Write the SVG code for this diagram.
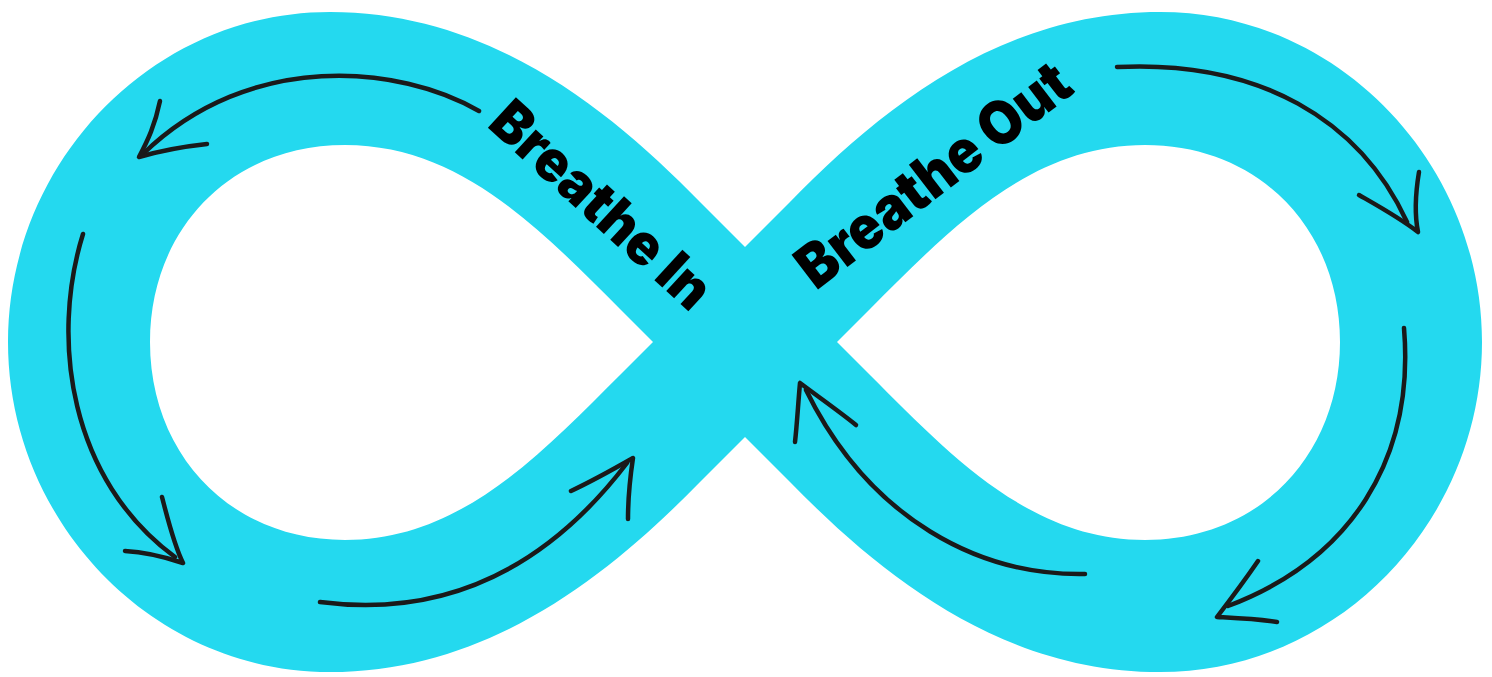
<svg xmlns="http://www.w3.org/2000/svg" width="1492" height="677" viewBox="0 0 1492 677">
  <style>
    .band { fill: #24D9EF; fill-rule: evenodd; }
    .arrow { fill: none; stroke: #1a1a1a; stroke-width: 4.5; stroke-linecap: round; stroke-linejoin: round; }
    .label { font-family: Inter, "Liberation Sans", sans-serif; font-weight: 900; fill: #000; }
  </style>
  <rect width="1492" height="677" fill="#ffffff"/>
  <g id="infinity">
    <path class="band" d="M745,247 L700,202 C610,110 490,12 330,12 C150,12 8,165 8,342 C8,519 150,672 330,672 C490,672 610,574 700,482 L745,437 L790,482 C880,574 1000,672 1160,672 C1340,672 1482,519 1482,342 C1482,165 1340,12 1160,12 C1000,12 880,110 790,202 Z
      M653,342 L620,309 C540,229 460,145 345,145 C230,145 150,230 150,342 C150,454 230,540 345,540 C460,540 540,455 620,375 Z
      M837,342 L870,309 C950,229 1030,145 1145,145 C1260,145 1340,230 1340,342 C1340,454 1260,540 1145,540 C1030,540 950,455 870,375 Z"/>
  </g>
  <g id="connectors">
    <g id="arrow-top-left">
      <path class="arrow" d="M479,111 C400,65 250,50 143,154"/>
      <path class="arrow" d="M160,101 C155,125 148,140 139,157 Q170,148 207,144"/>
    </g>
    <g id="arrow-left">
      <path class="arrow" d="M83,234 C50,340 70,480 175,557"/>
      <path class="arrow" d="M162,497 C168,520 174,545 183,563 C165,557 145,552 125,551"/>
    </g>
    <g id="arrow-bottom-left">
      <path class="arrow" d="M320,602 C420,615 530,590 627,463"/>
      <path class="arrow" d="M571,491 C590,482 612,470 633,458 C630,478 628,500 628,519"/>
    </g>
    <g id="arrow-bottom-center">
      <path class="arrow" d="M1085,574 C980,576 870,520 806,390"/>
      <path class="arrow" d="M856,425 C840,412 820,398 800,383 C798,405 797,425 795,442"/>
    </g>
    <g id="arrow-top-right">
      <path class="arrow" d="M1117,67 C1260,60 1360,120 1407,222"/>
      <path class="arrow" d="M1359,195 C1380,207 1400,218 1418,232 C1414,212 1416,190 1419,172"/>
    </g>
    <g id="arrow-right">
      <path class="arrow" d="M1404,328 C1415,460 1350,560 1228,606"/>
      <path class="arrow" d="M1258,561 C1245,580 1230,600 1217,617 C1235,618 1258,619 1277,622"/>
    </g>
  </g>
  <g id="label-breathe-in">
    <text class="label" font-size="57" textLength="277" lengthAdjust="spacingAndGlyphs" transform="translate(486,126) rotate(42.5)">Breathe In</text>
  </g>
  <g id="label-breathe-out">
    <text class="label" font-size="60" textLength="328" lengthAdjust="spacingAndGlyphs" transform="translate(816,291) rotate(-37.5)">Breathe Out</text>
  </g>
</svg>
